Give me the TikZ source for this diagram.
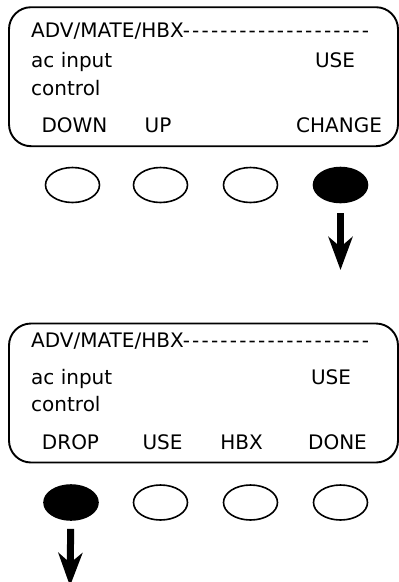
\documentclass[tikz,border=0pt]{standalone}
\usepackage{fontspec}
\setmainfont{DejaVu Sans}
\usetikzlibrary{arrows.meta,shapes.geometric}

% row of single hyphens, kept apart so they do not join into dashes
\newcommand{\dashrule}{\foreach \i in {1,...,20}{-\kern2.2pt}}

\begin{document}
\begin{tikzpicture}[x=1pt,y=-1pt,
  screen/.style={draw,line width=1.9pt,rounded corners=22pt,
    minimum width=389pt,minimum height=139pt},
  txt/.style={inner sep=0pt,font=\fontsize{20}{24}\selectfont},
  key/.style={draw,ellipse,line width=1.6pt,inner sep=0pt,
    minimum width=54pt,minimum height=35pt},
  pressed/.style={key,fill=black},
  push/.style={-{Stealth[length=33pt,width=24pt,inset=10pt]},line width=7pt}]

  \useasboundingbox (0,0) rectangle (399,582);

  % first screen
  \node[screen] (lcdA) at (203.5,76.7) {};
  \node[txt,anchor=base west] (menuA) at (31,37) {ADV/MATE/HBX\dashrule};
  \node[txt,anchor=base west] (itemA) at (31,67) {ac input};
  \node[txt,anchor=base west] (itemA2) at (31,95) {control};
  \node[txt,anchor=base] (valA) at (335,67) {USE};
  \node[txt,anchor=base] (softA1) at (74.5,132) {DOWN};
  \node[txt,anchor=base] (softA2) at (158,132) {UP};
  \node[txt,anchor=base] (softA4) at (339,132) {CHANGE};

  \node[key] (keyA1) at (72.5,185) {};
  \node[key] (keyA2) at (160.5,185) {};
  \node[key] (keyA3) at (250.5,185) {};
  \node[pressed] (keyA4) at (340.5,185) {};

  \coordinate (tipA) at (340.5,270);
  \draw[push,shorten <=10pt] (keyA4) -- (tipA);

  % second screen
  \node[screen] (lcdB) at (203.5,393) {};
  \node[txt,anchor=base west] (menuB) at (31,347) {ADV/MATE/HBX\dashrule};
  \node[txt,anchor=base west] (itemB) at (31,384) {ac input};
  \node[txt,anchor=base west] (itemB2) at (31,411) {control};
  \node[txt,anchor=base] (valB) at (331,384) {USE};
  \node[txt,anchor=base] (softB1) at (70.5,449) {DROP};
  \node[txt,anchor=base] (softB2) at (162.5,449) {USE};
  \node[txt,anchor=base] (softB3) at (241.5,449) {HBX};
  \node[txt,anchor=base] (softB4) at (337.5,449) {DONE};

  \node[pressed] (keyB1) at (71,502.5) {};
  \node[key] (keyB2) at (160.5,502.5) {};
  \node[key] (keyB3) at (250.5,502.5) {};
  \node[key] (keyB4) at (340.5,502.5) {};

  \coordinate (tipB) at (70,586);
  \draw[push,shorten <=8pt] (keyB1) -- (tipB);
\end{tikzpicture}
\end{document}
